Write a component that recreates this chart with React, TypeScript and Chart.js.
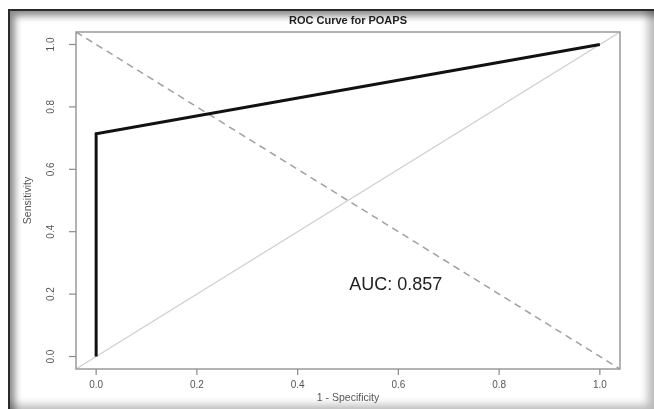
import React, { useEffect, useRef } from "react";
import { Chart, registerables } from "chart.js";

Chart.register(...registerables);

const titleText = "ROC Curve for POAPS";
const xTitle = "1 - Specificity";
const yTitle = "Sensitivity";
const aucLabel = "AUC: 0.857";
const aucPos = { x: 0.595, y: 0.228 };

const xTicks = [0, 0.2, 0.4, 0.6, 0.8, 1.0];
const yTicks = [0, 0.2, 0.4, 0.6, 0.8, 1.0];
const tickLabels = ["0.0", "0.2", "0.4", "0.6", "0.8", "1.0"];

const rocX = [0, 0, 1];
const rocY = [0, 0.714, 1];

const axisMin = -0.04;
const axisMax = 1.04;

const diagX = [axisMin, axisMax];
const diagY = [axisMin, axisMax];
const antiX = [axisMin, axisMax];
const antiY = [axisMax, axisMin];

const FONT = "'Liberation Sans', Arial, Helvetica, sans-serif";

const rAxesPlugin = {
  id: "rAxes",
  afterDatasetsDraw(chart: any) {
    const ctx = chart.ctx;
    const xs = chart.scales.x;
    const ys = chart.scales.y;
    const a = chart.chartArea;
    ctx.save();
    // box
    ctx.strokeStyle = "#9a9a9a";
    ctx.lineWidth = 1.5;
    ctx.strokeRect(a.left, a.top, a.right - a.left, a.bottom - a.top);
    // x ticks
    ctx.strokeStyle = "#8a8a8a";
    ctx.lineWidth = 1.2;
    ctx.fillStyle = "#555";
    ctx.font = `10px ${FONT}`;
    ctx.textAlign = "center";
    ctx.textBaseline = "middle";
    xTicks.forEach((v, i) => {
      const px = xs.getPixelForValue(v);
      ctx.beginPath();
      ctx.moveTo(px, a.bottom);
      ctx.lineTo(px, a.bottom + 6);
      ctx.stroke();
      ctx.fillText(tickLabels[i], px, a.bottom + 16);
    });
    // y ticks
    yTicks.forEach((v, i) => {
      const py = ys.getPixelForValue(v);
      ctx.beginPath();
      ctx.moveTo(a.left, py);
      ctx.lineTo(a.left - 7, py);
      ctx.stroke();
      ctx.save();
      ctx.translate(a.left - 25, py);
      ctx.rotate(-Math.PI / 2);
      ctx.fillText(tickLabels[i], 0, 0);
      ctx.restore();
    });
    // axis titles
    ctx.fillStyle = "#555";
    ctx.font = `10.5px ${FONT}`;
    ctx.fillText(xTitle, (a.left + a.right) / 2, a.bottom + 29);
    ctx.save();
    ctx.translate(a.left - 48, (a.top + a.bottom) / 2);
    ctx.rotate(-Math.PI / 2);
    ctx.fillText(yTitle, 0, 0);
    ctx.restore();
    // title
    ctx.fillStyle = "#222";
    ctx.font = `bold 11px ${FONT}`;
    ctx.fillText(titleText, (a.left + a.right) / 2, a.top - 11);
    // AUC text
    ctx.fillStyle = "#222";
    ctx.font = `18px ${FONT}`;
    ctx.fillText(aucLabel, xs.getPixelForValue(aucPos.x), ys.getPixelForValue(aucPos.y));
    ctx.restore();
  },
};

function toPts(xs: number[], ys: number[]) {
  return xs.map((x, i) => ({ x, y: ys[i] }));
}

export default function App() {
  const ref = useRef<HTMLCanvasElement | null>(null);
  useEffect(() => {
    if (!ref.current) return;
    const chart = new Chart(ref.current, {
      type: "scatter",
      data: {
        datasets: [
          {
            data: toPts(rocX, rocY),
            showLine: true,
            borderColor: "#111",
            borderWidth: 3,
            pointRadius: 0,
            order: 0,
          },
          {
            data: toPts(diagX, diagY),
            showLine: true,
            borderColor: "#cfcfcf",
            borderWidth: 1.2,
            pointRadius: 0,
            order: 1,
          },
          {
            data: toPts(antiX, antiY),
            showLine: true,
            borderColor: "#a0a0a0",
            borderWidth: 1.5,
            borderDash: [7, 5],
            pointRadius: 0,
            order: 2,
          },
        ],
      },
      options: {
        animation: false,
        responsive: false,
        maintainAspectRatio: false,
        layout: { padding: { left: 76, top: 32, right: 34, bottom: 40 } },
        plugins: { legend: { display: false }, tooltip: { enabled: false }, title: { display: false } },
        scales: {
          x: { type: "linear", min: axisMin, max: axisMax, display: false },
          y: { type: "linear", min: axisMin, max: axisMax, display: false },
        },
      },
      plugins: [rAxesPlugin],
    });
    return () => chart.destroy();
  }, []);

  return (
    <div style={{ position: "fixed", left: 0, top: 0, width: 654, height: 409, background: "#fff", overflow: "hidden" }}>
      <div
        style={{
          position: "absolute",
          left: 8,
          top: 9,
          width: 646,
          height: 400,
          boxSizing: "border-box",
          borderLeft: "2px solid #2a2a2a",
          borderTop: "2px solid #2a2a2a",
          background: "#fff",
          boxShadow: "inset 7px 7px 7px -2px rgba(0,0,0,0.45), inset -9px -7px 8px -3px rgba(0,0,0,0.28)",
        }}
      />
      <canvas ref={ref} width={654} height={409} style={{ position: "absolute", left: 0, top: 0, width: 654, height: 409 }} />
    </div>
  );
}
